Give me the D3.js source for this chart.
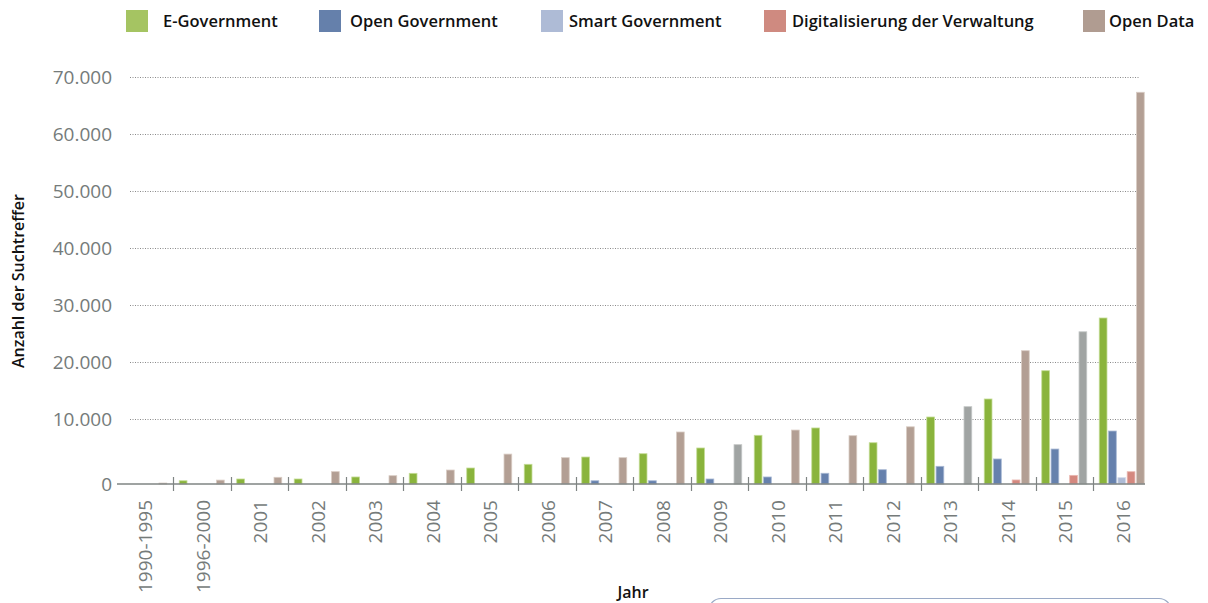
<!DOCTYPE html>
<html>
<head>
<meta charset="utf-8">
<script src="https://cdn.jsdelivr.net/npm/d3@7/dist/d3.min.js"></script>
<style>
  html, body { margin: 0; padding: 0; background: #ffffff; }
  svg { display: block; }
</style>
</head>
<body>
<svg id="chart" width="1208" height="603"></svg>
<script>
// ---------- data ----------
const categories = ["1990-1995","1996-2000","2001","2002","2003","2004","2005","2006","2007","2008","2009","2010","2011","2012","2013","2014","2015","2016"];
const seriesNames = ["E-Government","Open Government","Smart Government","Digitalisierung der Verwaltung","Open Data"];
const eGovernment    = [0, 500, 770, 770, 1080, 1640, 2460, 3030, 4150, 4660, 5540, 7490, 8620, 6350, 10350, 13510, 18470, 27720];
const openGovernment = [0, 0, 0, 0, 0, 0, 0, 0, 500, 500, 770, 1080, 1650, 2200, 2720, 3850, 5380, 8150];
const smartGovernment = [0, 0, 0, 0, 0, 0, 0, 0, 0, 0, 0, 0, 0, 0, 0, 0, 0, 970];
const digitalisierung = [0, 0, 0, 0, 0, 0, 0, 0, 0, 0, 0, 0, 0, 0, 0, 620, 1330, 1890];
const openData       = [150, 600, 1030, 1900, 1280, 2150, 4600, 4050, 4050, 8000, 6050, 8300, 7430, 8800, 12160, 21980, 25300, 67320];
const yTicks = [0, 10000, 20000, 30000, 40000, 50000, 60000, 70000];
const greyedOpenDataYears = ["2009", "2013", "2015"];

// ---------- styles ----------
const barColors = ["#8ab43c", "#6681ad", "#aebbd6", "#d4887f", "#b39f94"];
const barEdge   = ["#c4dc96", "#a9b9d4", "#d3dbea", "#eab7b0", "#d9ccc4"];
const legendColors = ["#a5c462", "#6580ab", "#aebbd6", "#cf8a80", "#b09c91"];
const greyBar = "#a0a4a3";
const labelGrey = "#757b7a";
const fontFam = "'Open Sans', 'Noto Sans', sans-serif";

const svg = d3.select("#chart");
const allSeries = [eGovernment, openGovernment, smartGovernment, digitalisierung, openData];

// ---------- scales ----------
const x0 = d3.scaleBand().domain(categories).range([115.5, 115.5 + 57.5 * categories.length]).padding(0);
const groupW = 45;
const x1 = d3.scaleBand().domain(seriesNames)
  .range([(x0.bandwidth() - groupW) / 2, (x0.bandwidth() + groupW) / 2])
  .paddingInner(0.17);
const y = d3.scaleLinear().domain([0, 10000, 70000]).range([484, 419, 77]);
const de = d3.formatLocale({decimal: ",", thousands: ".", grouping: [3], currency: ["", " €"]});
const fmt = de.format(",");

// ---------- gridlines ----------
svg.append("g").selectAll("line")
  .data(yTicks.filter(d => d > 0))
  .join("line")
  .attr("x1", 130).attr("x2", 1140)
  .attr("y1", d => Math.round(y(d)) + 0.5).attr("y2", d => Math.round(y(d)) + 0.5)
  .attr("stroke", "#8a8a8a")
  .attr("stroke-width", 1)
  .attr("stroke-dasharray", "1,1.5");

// ---------- y labels ----------
svg.append("g").selectAll("text")
  .data(yTicks)
  .join("text")
  .attr("x", 112)
  .attr("y", d => y(d))
  .attr("dy", "0.36em")
  .attr("text-anchor", "end")
  .attr("font-family", fontFam)
  .attr("font-size", 19)
  .attr("fill", labelGrey)
  .text(d => fmt(d));

// ---------- bars ----------
const rows = categories.map((c, i) => ({cat: c, vals: seriesNames.map((s, k) => ({key: s, k: k, cat: c, v: allSeries[k][i]}))}));
const groups = svg.append("g").selectAll("g")
  .data(rows)
  .join("g")
  .attr("transform", d => `translate(${x0(d.cat)},0)`);
groups.selectAll("rect")
  .data(d => d.vals.filter(e => e.v > 0))
  .join("rect")
  .attr("x", d => x1(d.key))
  .attr("width", x1.bandwidth())
  .attr("y", d => y(d.v))
  .attr("height", d => y(0) - y(d.v))
  .attr("fill", d => (d.k === 4 && greyedOpenDataYears.includes(d.cat)) ? greyBar : barColors[d.k])
  .attr("stroke", d => (d.k === 4 && greyedOpenDataYears.includes(d.cat)) ? "#c4c7c6" : barEdge[d.k])
  .attr("stroke-width", 0.8);

// ---------- x axis ----------
svg.append("line")
  .attr("x1", 117).attr("x2", 1145)
  .attr("y1", 484).attr("y2", 484)
  .attr("stroke", "#7f8483").attr("stroke-width", 1.5);
svg.append("g").selectAll("line")
  .data(categories.slice(1))
  .join("line")
  .attr("x1", d => Math.round(x0(d)) + 0.5).attr("x2", d => Math.round(x0(d)) + 0.5)
  .attr("y1", 477).attr("y2", 491)
  .attr("stroke", "#7f8483").attr("stroke-width", 1.2);
svg.append("g").selectAll("text")
  .data(categories)
  .join("text")
  .attr("transform", d => `translate(${x0(d) + x0.bandwidth() / 2 + 1},500) rotate(-90)`)
  .attr("dy", "0.36em")
  .attr("text-anchor", "end")
  .attr("font-family", fontFam)
  .attr("font-size", 19)
  .attr("fill", labelGrey)
  .text(d => d);

// ---------- axis titles ----------
svg.append("text")
  .attr("transform", "translate(18,281) rotate(-90)")
  .attr("dy", "0.36em")
  .attr("text-anchor", "middle")
  .attr("font-family", fontFam)
  .attr("font-weight", 600)
  .attr("font-size", 16)
  .attr("fill", "#111")
  .text("Anzahl der Suchtreffer");
svg.append("text")
  .attr("x", 633).attr("y", 598)
  .attr("text-anchor", "middle")
  .attr("font-family", fontFam)
  .attr("font-weight", 600)
  .attr("font-size", 16)
  .attr("fill", "#111")
  .text("Jahr");

// ---------- partial box bottom right ----------
svg.append("rect")
  .attr("x", 709).attr("y", 598.5)
  .attr("width", 462).attr("height", 40)
  .attr("rx", 12)
  .attr("fill", "#ffffff")
  .attr("stroke", "#9aa9c6").attr("stroke-width", 1.2);

// ---------- legend ----------
const legendX = [126, 319, 541, 764, 1083];
const legendTextX = [163, 350, 569, 792, 1109];
const leg = svg.append("g").selectAll("g")
  .data(seriesNames)
  .join("g");
leg.append("rect")
  .attr("x", (d, i) => legendX[i]).attr("y", 10)
  .attr("width", 22).attr("height", 22)
  .attr("fill", (d, i) => legendColors[i]);
leg.append("text")
  .attr("x", (d, i) => legendTextX[i]).attr("y", 21)
  .attr("dy", "0.36em")
  .attr("font-family", fontFam)
  .attr("font-weight", 600)
  .attr("font-size", 16.5)
  .attr("fill", "#111")
  .text(d => d);
</script>
</body>
</html>
